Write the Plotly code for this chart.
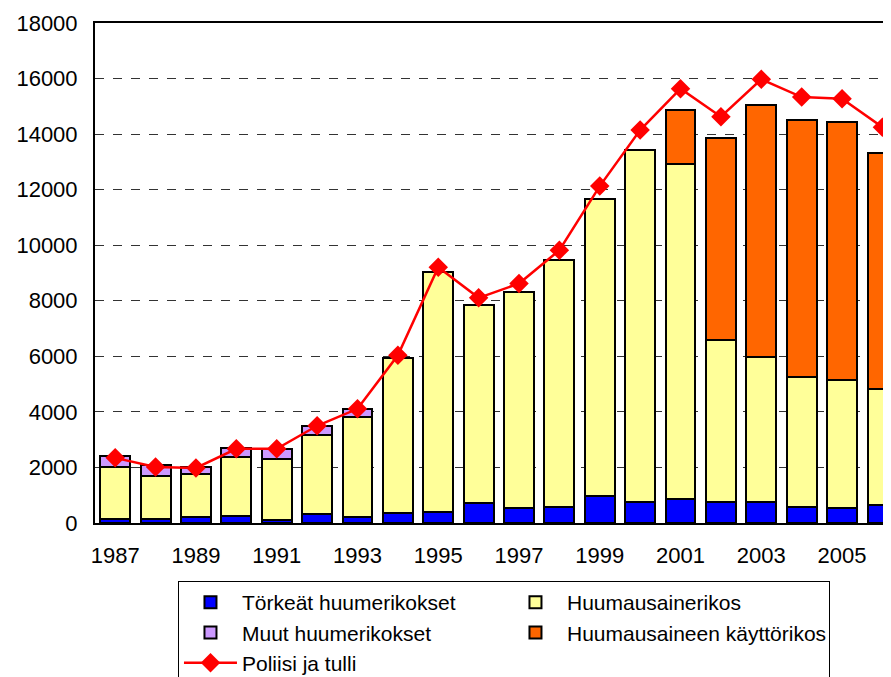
import plotly.graph_objects as go

years = list(range(1987, 2007))
torkeat = [140, 140, 220, 270, 110, 310, 230, 370, 390, 710, 540, 570, 970, 760, 870, 760, 760, 580, 540, 650]
huumausainerikos = [1880, 1555, 1547, 2110, 2200, 2865, 3593, 5584, 8653, 7154, 7781, 8891, 10699, 12668,
                    12069, 5845, 5208, 4681, 4620, 4176]
muut = [400, 395, 253, 325, 360, 325, 289, None, None, None, None, None, None, None,
        None, None, None, None, None, None]
kayttorikos = [None] * 14 + [1921, 7245, 9096, 9237, 9262, 8481]
poliisi = [2345, 2020, 1984, 2670, 2670, 3500, 4112, 6037, 9208, 8105, 8621, 9821, 12128, 14146,
           15637, 14628, 15973, 15335, 15277, 14250]

FONT = "Liberation Sans, Arial, sans-serif"
line_style = dict(color="black", width=2)
bw = 0.74

fig = go.Figure()
fig.add_trace(go.Bar(x=years, y=torkeat, name="Törkeät huumerikokset", width=bw,
                     marker=dict(color="#0000FF", line=line_style)))
fig.add_trace(go.Bar(x=years, y=huumausainerikos, name="Huumausainerikos", width=bw,
                     marker=dict(color="#FFFF99", line=line_style)))
fig.add_trace(go.Bar(x=years, y=muut, name="Muut huumerikokset", width=bw,
                     marker=dict(color="#CC99FF", line=line_style)))
fig.add_trace(go.Bar(x=years, y=kayttorikos, name="Huumausaineen käyttörikos", width=bw,
                     marker=dict(color="#FF6600", line=line_style)))
fig.add_trace(go.Scatter(x=years, y=poliisi, name="Poliisi ja tulli", mode="lines+markers",
                         line=dict(color="#FF0000", width=2.5),
                         marker=dict(symbol="diamond", size=15, color="#FF0000")))

fig.update_layout(
    width=891, height=677,
    margin=dict(l=87, r=0, t=15, b=162, autoexpand=False),
    barmode="stack",
    plot_bgcolor="white", paper_bgcolor="white",
    font=dict(family=FONT, size=22, color="black"),
    showlegend=True,
    legend=dict(
        orientation="h",
        x=0.1032, xanchor="left",
        y=-0.116, yanchor="top",
        bordercolor="black", borderwidth=1,
        entrywidth=257, entrywidthmode="pixels",
        font=dict(family=FONT, size=21, color="black"),
        traceorder="normal",
        itemwidth=53,
    ),
)
fig.update_xaxes(
    range=[1986.5, 2006.41],
    tickmode="linear", tick0=1987, dtick=2,
    showline=True, linecolor="black", linewidth=2, mirror=True,
    showgrid=False, ticks="", ticklabelstandoff=12,
    tickfont=dict(size=22),
)
fig.update_yaxes(
    range=[0, 18000], tickmode="linear", tick0=0, dtick=2000,
    tickformat="d",
    showline=True, linecolor="black", linewidth=2, mirror=True,
    showgrid=True, gridcolor="#333333", griddash="dash", gridwidth=1,
    zeroline=False, ticks="", ticklabelstandoff=11,
    tickfont=dict(size=22),
)

fig.write_html("out.html")
